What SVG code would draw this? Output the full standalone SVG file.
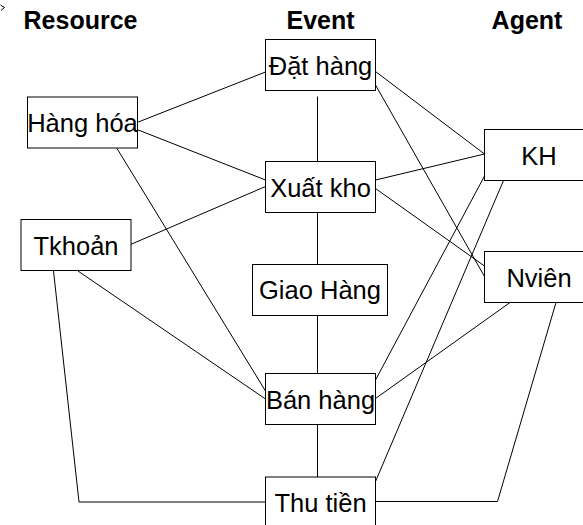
<svg xmlns="http://www.w3.org/2000/svg" width="583" height="525" viewBox="0 0 583 525">
<style>
.box{fill:#fff;stroke:#000;stroke-width:1}
.lbl{font-family:"Liberation Sans",Arial,sans-serif;font-size:25.5px;text-anchor:middle;fill:#000}
.hdr{font-family:"Liberation Sans",Arial,sans-serif;font-size:25px;font-weight:bold;text-anchor:middle;fill:#000}
.c{fill:none;stroke:#000;stroke-width:1}
</style>
<rect width="583" height="525" fill="#fff"/>
<path class="c" d="M0.5,5 L4.5,7.5 L1,10.5"/>
<g id="headers">
<text class="hdr" x="80.5" y="29">Resource</text>
<text class="hdr" x="320.5" y="29">Event</text>
<text class="hdr" x="527" y="29">Agent</text>
</g>
<g id="connectors">
<line class="c" x1="317.5" y1="96.5" x2="317.5" y2="161"/>
<line class="c" x1="317.5" y1="212.5" x2="317.5" y2="264"/>
<line class="c" x1="317.5" y1="315.5" x2="317.5" y2="374"/>
<line class="c" x1="317.5" y1="424.5" x2="317.5" y2="477"/>
<line class="c" x1="137" y1="122.5" x2="265.5" y2="72"/>
<line class="c" x1="137" y1="129.5" x2="265.5" y2="180"/>
<line class="c" x1="117" y1="148.5" x2="265.5" y2="391"/>
<line class="c" x1="130.5" y1="244.5" x2="265.5" y2="186.5"/>
<line class="c" x1="78" y1="271" x2="265.5" y2="399"/>
<polyline class="c" points="53.5,271 79,502 265.5,502"/>
<line class="c" x1="375.5" y1="71.5" x2="484.5" y2="154"/>
<line class="c" x1="375.5" y1="85" x2="484.5" y2="276.5"/>
<line class="c" x1="375.5" y1="180" x2="484.5" y2="154"/>
<line class="c" x1="375.5" y1="188.5" x2="484.5" y2="266"/>
<line class="c" x1="375.5" y1="380" x2="484.5" y2="176"/>
<line class="c" x1="375.5" y1="398.5" x2="510" y2="302.5"/>
<line class="c" x1="375.5" y1="481.5" x2="503.5" y2="180.5"/>
<polyline class="c" points="375.5,501.5 497.5,501.5 556,302.5"/>
</g>
<g id="dat-hang"><rect class="box" x="265.5" y="39.5" width="110" height="51"/><text class="lbl" x="320.5" y="74.5">Đặt hàng</text></g>
<g id="xuat-kho"><rect class="box" x="265.5" y="161.5" width="110" height="51"/><text class="lbl" x="320.5" y="196.5">Xuất kho</text></g>
<g id="giao-hang"><rect class="box" x="252.5" y="264.5" width="135" height="51"/><text class="lbl" x="320" y="299">Giao Hàng</text></g>
<g id="ban-hang"><rect class="box" x="265.5" y="373.5" width="110" height="51"/><text class="lbl" x="320.5" y="408.5">Bán hàng</text></g>
<g id="thu-tien"><rect class="box" x="265.5" y="477" width="110" height="51"/><text class="lbl" x="320.5" y="512">Thu tiền</text></g>
<g id="hang-hoa"><rect class="box" x="27.5" y="97" width="110" height="51"/><text class="lbl" x="82.5" y="132">Hàng hóa</text></g>
<g id="tkhoan"><rect class="box" x="21" y="219.5" width="110" height="51"/><text class="lbl" x="76" y="254.5">Tkhoản</text></g>
<g id="kh"><rect class="box" x="484.5" y="129.5" width="110" height="51"/><text class="lbl" x="539" y="164.5">KH</text></g>
<g id="nvien"><rect class="box" x="484.5" y="251.5" width="110" height="51"/><text class="lbl" x="539" y="286.5">Nviên</text></g>
</svg>
